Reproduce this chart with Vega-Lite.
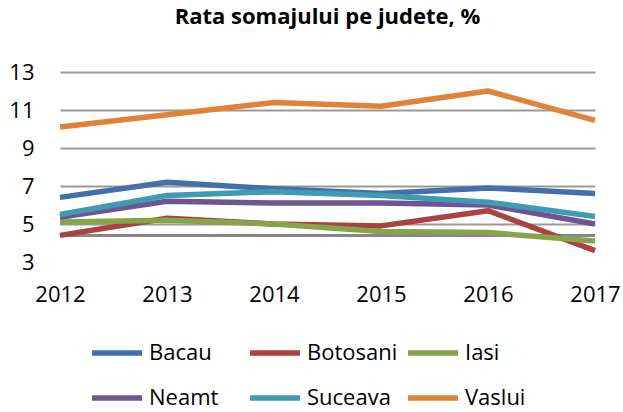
{
  "$schema": "https://vega.github.io/schema/vega-lite/v6.json",
  "width": 535,
  "height": 190,
  "autosize": {"type": "none"},
  "padding": {"left": 60, "top": 72, "right": 28, "bottom": 150},
  "background": "white",
  "config": {
    "view": {"stroke": null},
    "font": "Open Sans",
    "axisY": {
      "domain": false,
      "ticks": false,
      "labelFontSize": 22,
      "labelColor": "#000000",
      "labelPadding": 26,
      "labelFont": "Open Sans",
      "labelOverlap": false,
      "labelBound": false,
      "labelFlush": false,
      "grid": true,
      "gridColor": {"condition": {"test": "datum.value == 3", "value": "transparent"}, "value": "#999999"},
      "gridWidth": 2,
      "title": null
    }
  },
  "title": {
    "text": "Rata somajului pe judete, %",
    "fontSize": 22,
    "fontWeight": "bold",
    "font": "Open Sans",
    "color": "#000000",
    "anchor": "middle",
    "offset": 32
  },
  "data": {
    "values": [
      {"judet": "Bacau", "an": 2012, "rata": 6.4},
      {"judet": "Bacau", "an": 2013, "rata": 7.2},
      {"judet": "Bacau", "an": 2014, "rata": 6.85},
      {"judet": "Bacau", "an": 2015, "rata": 6.6},
      {"judet": "Bacau", "an": 2016, "rata": 6.9},
      {"judet": "Bacau", "an": 2017, "rata": 6.6},
      {"judet": "Botosani", "an": 2012, "rata": 4.4},
      {"judet": "Botosani", "an": 2013, "rata": 5.3},
      {"judet": "Botosani", "an": 2014, "rata": 5.0},
      {"judet": "Botosani", "an": 2015, "rata": 4.9},
      {"judet": "Botosani", "an": 2016, "rata": 5.7},
      {"judet": "Botosani", "an": 2017, "rata": 3.6},
      {"judet": "Iasi", "an": 2012, "rata": 5.1},
      {"judet": "Iasi", "an": 2013, "rata": 5.2},
      {"judet": "Iasi", "an": 2014, "rata": 5.0},
      {"judet": "Iasi", "an": 2015, "rata": 4.6},
      {"judet": "Iasi", "an": 2016, "rata": 4.55},
      {"judet": "Iasi", "an": 2017, "rata": 4.1},
      {"judet": "Neamt", "an": 2012, "rata": 5.35},
      {"judet": "Neamt", "an": 2013, "rata": 6.2},
      {"judet": "Neamt", "an": 2014, "rata": 6.1},
      {"judet": "Neamt", "an": 2015, "rata": 6.1},
      {"judet": "Neamt", "an": 2016, "rata": 6.0},
      {"judet": "Neamt", "an": 2017, "rata": 5.0},
      {"judet": "Suceava", "an": 2012, "rata": 5.5},
      {"judet": "Suceava", "an": 2013, "rata": 6.5},
      {"judet": "Suceava", "an": 2014, "rata": 6.7},
      {"judet": "Suceava", "an": 2015, "rata": 6.5},
      {"judet": "Suceava", "an": 2016, "rata": 6.15},
      {"judet": "Suceava", "an": 2017, "rata": 5.4},
      {"judet": "Vaslui", "an": 2012, "rata": 10.1},
      {"judet": "Vaslui", "an": 2013, "rata": 10.75},
      {"judet": "Vaslui", "an": 2014, "rata": 11.4},
      {"judet": "Vaslui", "an": 2015, "rata": 11.2},
      {"judet": "Vaslui", "an": 2016, "rata": 12.0},
      {"judet": "Vaslui", "an": 2017, "rata": 10.45}
    ]
  },
  "layer": [
    {
      "mark": {"type": "rule", "color": "#868686", "strokeWidth": 2},
      "encoding": {
        "y": {
          "datum": 4.4,
          "type": "quantitative",
          "scale": {"domain": [3, 13], "nice": false, "zero": false},
          "axis": {"values": [3, 5, 7, 9, 11, 13]}
        }
      }
    },
    {
      "mark": {"type": "line", "strokeWidth": 5.5, "strokeCap": "butt", "strokeJoin": "round", "clip": false},
      "encoding": {
        "x": {
          "field": "an",
          "type": "ordinal",
          "scale": {"type": "point", "padding": 0},
          "axis": {
            "title": null,
            "labelAngle": 0,
            "domain": false,
            "ticks": false,
            "grid": false,
            "labelFontSize": 22,
            "labelColor": "#000000",
            "labelPadding": 22,
            "labelFont": "Open Sans",
            "labelOverlap": false
          }
        },
        "y": {
          "field": "rata",
          "type": "quantitative",
          "scale": {"domain": [3, 13], "nice": false, "zero": false},
          "axis": {"values": [3, 5, 7, 9, 11, 13]}
        },
        "color": {
          "field": "judet",
          "type": "nominal",
          "scale": {
            "domain": ["Bacau", "Botosani", "Iasi", "Neamt", "Suceava", "Vaslui"],
            "range": ["#4170AB", "#AA4240", "#86A449", "#6E558F", "#3E9BB3", "#DF8337"]
          },
          "legend": {
            "title": null,
            "orient": "none",
            "legendX": 29,
            "legendY": 253,
            "direction": "horizontal",
            "columns": 3,
            "gridAlign": "all",
            "columnPadding": -1,
            "rowPadding": 6,
            "symbolType": "stroke",
            "symbolSize": 2500,
            "symbolStrokeWidth": 5.5,
            "labelFontSize": 22,
            "labelFont": "Open Sans",
            "labelColor": "#000000",
            "labelOffset": 4
          }
        }
      }
    }
  ]
}
